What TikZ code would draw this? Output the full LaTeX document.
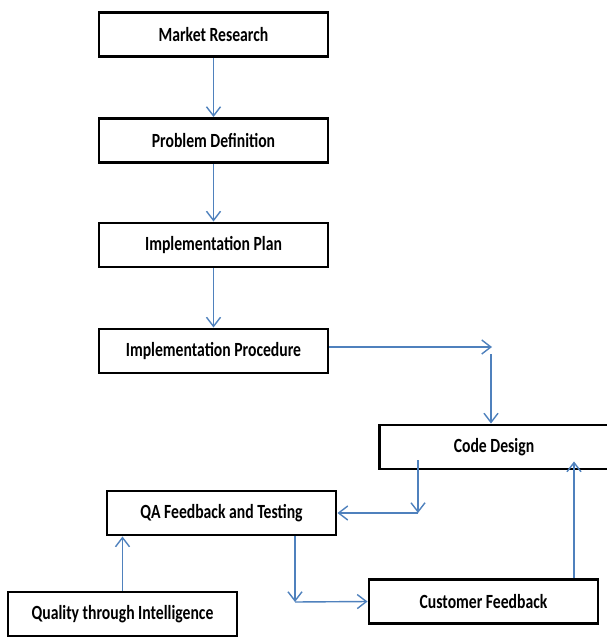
\documentclass[tikz,border=0pt]{standalone}
\usepackage{fontspec}
\setmainfont{Carlito}[FakeStretch=0.78]
\usetikzlibrary{arrows.meta}
\definecolor{flowblue}{RGB}{79,129,189}
\begin{document}
\begin{tikzpicture}[x=0.025cm, y=-0.025cm,%
% common options for the steps:
stepbox/.style = {rectangle, draw, line width=2.1pt, align=center,
            minimum width=229*0.025cm, minimum height=44*0.025cm, inner sep=0,
            font=\fontsize{14.3}{17}\selectfont\bfseries},
% common options for the connectors:
flow/.style = {draw=flowblue, line width=1pt,
            -{Straight Barb[length=6.5pt, width=10pt, line width=1pt]}}]
\useasboundingbox (0,0) rectangle (606,637);
\node[stepbox] (M1) at (213.5,34.5) {Market Research};
\node[stepbox] (M2) at (213.5,140.5) {Problem Definition};
\node[stepbox] (M3) at (213.5,245) {Implementation Plan};
\node[stepbox] (M4) at (213.5,351) {Implementation Procedure};
\node[stepbox] (C1) at (494,447) {Code Design};
\node[stepbox] (Q1) at (221.5,513) {QA Feedback and Testing};
\node[stepbox] (C2) at (483.5,601.5) {Customer Feedback};
\node[stepbox] (Q2) at (122.5,614) {Quality through Intelligence};
\coordinate (t1) at (492,347);
\coordinate (t2) at (491,354);
\coordinate (t3) at (418,513);
\coordinate (t4) at (295,602);
\draw[flow] (M1.south) to (M2.north);
\draw[flow] (M2.south) to (M3.north);
\draw[flow] (M3.south) to (M4.north);
\draw[flow] (M4.east |- t1) to (t1);
\draw[flow] (t2) to (C1.north -| t2);
\draw[flow, shorten <=-10*0.025cm] (C1.south -| t3) to (t3);
\draw[flow] (t3) to (Q1.east);
\draw[flow] (Q1.south -| t4) to (t4);
\draw[flow] (t4) to (C2.west);
\draw[flow, shorten >=-9*0.025cm] (C2.north -| 574,0) to (C1.south -| 574,0);
\draw[flow] (Q2.north) to (Q1.south -| Q2.north);
\end{tikzpicture}
\end{document}
